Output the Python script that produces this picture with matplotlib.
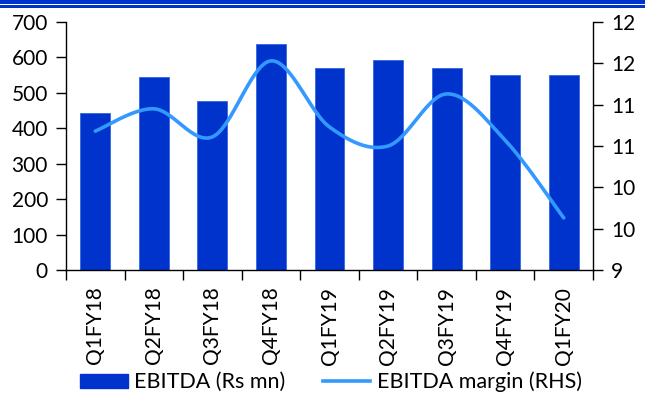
import numpy as np
import matplotlib
matplotlib.use("Agg")
import matplotlib.pyplot as plt
from matplotlib.patches import Rectangle
from matplotlib.lines import Line2D

quarters = ["Q1FY18", "Q2FY18", "Q3FY18", "Q4FY18", "Q1FY19",
            "Q2FY19", "Q3FY19", "Q4FY19", "Q1FY20"]
ebitda = [443, 545, 477, 638, 570, 592, 570, 550, 550]
margin = [10.68, 10.95, 10.61, 11.53, 10.73, 10.50, 11.13, 10.57, 9.63]
left_ticks = [0, 100, 200, 300, 400, 500, 600, 700]
right_ticks = [9.0, 9.5, 10.0, 10.5, 11.0, 11.5, 12.0]
right_labels = ["9", "10", "10", "11", "11", "12", "12"]

BAR = "#0033CC"
LINE = "#3399FF"

plt.rcParams["font.family"] = ["Lato", "DejaVu Sans"]
plt.rcParams["font.size"] = 15


def smooth(xs, ys, n=30):
    """Catmull-Rom style smoothing as used for smoothed line charts."""
    xs = np.asarray(xs, float)
    ys = np.asarray(ys, float)
    px = np.concatenate([[xs[0]], xs, [xs[-1]]])
    py = np.concatenate([[ys[0]], ys, [ys[-1]]])
    out_x, out_y = [], []
    t = np.linspace(0, 1, n)
    for i in range(1, len(px) - 2):
        p0 = np.array([px[i], py[i]])
        p3 = np.array([px[i + 1], py[i + 1]])
        c1 = p0 + (np.array([px[i + 1], py[i + 1]]) - np.array([px[i - 1], py[i - 1]])) / 6
        c2 = p3 - (np.array([px[i + 2], py[i + 2]]) - np.array([px[i], py[i]])) / 6
        b = ((1 - t) ** 3)[:, None] * p0 + (3 * (1 - t) ** 2 * t)[:, None] * c1 \
            + (3 * (1 - t) * t ** 2)[:, None] * c2 + (t ** 3)[:, None] * p3
        out_x.extend(b[:, 0])
        out_y.extend(b[:, 1])
    return np.array(out_x), np.array(out_y)


fig = plt.figure(figsize=(6.45, 3.97), dpi=100)
ax = fig.add_axes([66 / 645, 1 - 270 / 397, (593 - 66) / 645, (270 - 22) / 397])
x = np.arange(len(quarters))
ax.bar(x, ebitda, width=0.51, color=BAR, edgecolor="#3366DD", linewidth=0.6,
       label="EBITDA (Rs mn)", zorder=2)
ax.set_xlim(-0.5, len(quarters) - 0.5)
ax.set_ylim(0, 700)
ax.set_yticks(left_ticks)
ax.set_xticks(np.arange(len(quarters) + 1) - 0.5)
ax.set_xticklabels([])
ax.set_xticks(x, minor=True)
ax.set_xticklabels(quarters, minor=True, rotation=90)
ax.tick_params(axis="x", which="minor", length=0, pad=12)
ax.tick_params(axis="x", which="major", length=7, direction="out", width=1)
ax.tick_params(axis="y", length=7, direction="out", width=1, pad=6)
for s in ["top", "right"]:
    ax.spines[s].set_visible(False)
ax.spines["left"].set_linewidth(1)
ax.spines["bottom"].set_linewidth(1)

ax2 = ax.twinx()
sx, sy = smooth(x, margin)
ax2.plot(sx, sy, color=LINE, linewidth=2.6, solid_capstyle="round",
         label="EBITDA margin (RHS)", zorder=3)
ax2.set_ylim(9, 12)
ax2.set_yticks(right_ticks)
ax2.set_yticklabels(right_labels)
ax2.tick_params(axis="y", length=7, direction="out", width=1, pad=6)
for s in ["top", "left", "bottom"]:
    ax2.spines[s].set_visible(False)
ax2.spines["right"].set_linewidth(1)

handles = [Rectangle((0, 0), 1, 1, color=BAR),
           Line2D([0], [0], color=LINE, linewidth=2.6)]
fig.legend(handles, ["EBITDA (Rs mn)", "EBITDA margin (RHS)"],
           loc="center", bbox_to_anchor=(331 / 645, 1 - 382 / 397), ncol=2,
           frameon=False, handlelength=2.2, handleheight=0.6,
           columnspacing=1.75, handletextpad=0.3, fontsize=15.5,
           borderpad=0, borderaxespad=0)

fig.add_artist(Rectangle((0, 1 - 4 / 397), 1, 4 / 397, transform=fig.transFigure,
                         color=BAR, linewidth=0))
fig.add_artist(Rectangle((0, 1 - 7.5 / 397), 1, 2 / 397, transform=fig.transFigure,
                         color=BAR, linewidth=0))

fig.savefig("out.png", dpi=100)
